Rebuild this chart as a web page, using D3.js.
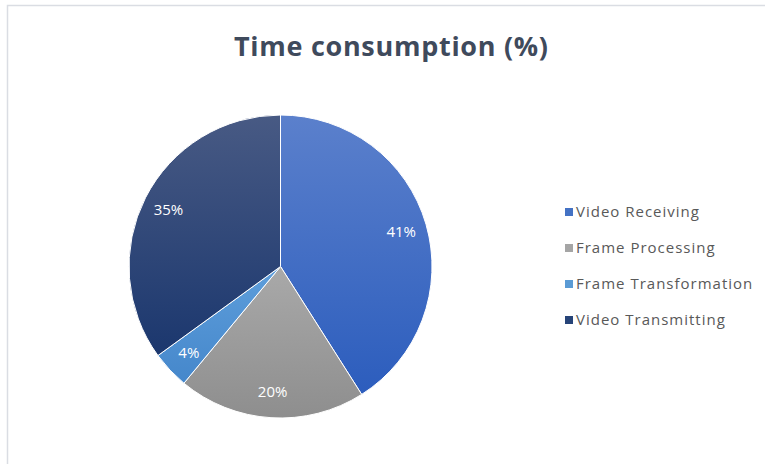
<!DOCTYPE html>
<html>
<head>
<meta charset="utf-8">
<script src="https://cdn.jsdelivr.net/npm/d3@7"></script>
<style>
  html, body { margin: 0; padding: 0; background: #fff; }
  svg { display: block; }
</style>
</head>
<body>
<svg id="chart" width="765" height="464"></svg>
<script>
// Share of processing time per pipeline stage
const categories = ["Video Receiving", "Frame Processing", "Frame Transformation", "Video Transmitting"];
const values = [41, 20, 4, 35];
const labels = ["41%", "20%", "4%", "35%"];
const chartTitle = "Time consumption (%)";

// Vertical gradient stops (top, bottom) for each slice
const topColors = ["#5b80cc", "#a9a9a9", "#5e9edb", "#485a84"];
const bottomColors = ["#2c5dbd", "#8e8e8e", "#4587cb", "#1b376e"];
const legendColors = ["#4472c4", "#a5a5a5", "#5b9bd5", "#264478"];

const svg = d3.select("#chart");
const W = 765, H = 464;

// Outer frame (only top and left edges fall inside the view)
svg.append("rect")
  .attr("x", 7.5).attr("y", 5.5)
  .attr("width", W + 20).attr("height", H + 20)
  .attr("fill", "#fff")
  .attr("stroke", "#dadde3")
  .attr("stroke-width", 1.5);

// Title
svg.append("text")
  .attr("x", 391).attr("y", 56)
  .attr("text-anchor", "middle")
  .attr("font-family", "'Open Sans', sans-serif")
  .attr("font-weight", "bold")
  .attr("font-size", 27)
  .attr("fill", "#3f4a5c")
  .attr("textLength", 314)
  .attr("lengthAdjust", "spacing")
  .text(chartTitle);

const defs = svg.append("defs");
categories.forEach((c, i) => {
  const g = defs.append("linearGradient")
    .attr("id", "grad" + i)
    .attr("x1", 0).attr("y1", 0).attr("x2", 0).attr("y2", 1);
  g.append("stop").attr("offset", "0%").attr("stop-color", topColors[i]);
  g.append("stop").attr("offset", "100%").attr("stop-color", bottomColors[i]);
});

const cx = 280.5, cy = 266.5, radius = 151.5;

const pie = d3.pie().sort(null).value(d => d.value);
const data = categories.map((c, i) => ({ name: c, value: values[i], label: labels[i], i }));
const arcs = pie(data);

const arc = d3.arc().innerRadius(0).outerRadius(radius);
const labelArc = d3.arc().innerRadius(radius * 0.83).outerRadius(radius * 0.83);

const g = svg.append("g").attr("transform", `translate(${cx},${cy})`);

g.selectAll("path.slice")
  .data(arcs)
  .join("path")
  .attr("class", "slice")
  .attr("d", arc)
  .attr("fill", d => `url(#grad${d.data.i})`)
  .attr("stroke", "#fff")
  .attr("stroke-width", 1);

g.selectAll("text.pct")
  .data(arcs)
  .join("text")
  .attr("class", "pct")
  .attr("transform", d => `translate(${labelArc.centroid(d)})`)
  .attr("text-anchor", "middle")
  .attr("dy", "0.35em")
  .attr("font-family", "'Open Sans', sans-serif")
  .attr("font-size", 15)
  .attr("fill", "#fff")
  .text(d => d.data.label);

// Legend
const legendY = d3.scalePoint().domain(categories).range([212, 320]);
const legend = svg.append("g");
const item = legend.selectAll("g.item")
  .data(categories)
  .join("g")
  .attr("class", "item")
  .attr("transform", d => `translate(565,${legendY(d)})`);

item.append("rect")
  .attr("x", 0).attr("y", -4)
  .attr("width", 8).attr("height", 8)
  .attr("fill", (d, i) => legendColors[i]);

item.append("text")
  .attr("x", 11).attr("y", 0)
  .attr("dy", "0.35em")
  .attr("font-family", "'Open Sans', sans-serif")
  .attr("font-size", 15)
  .attr("letter-spacing", 1)
  .attr("fill", "#595959")
  .text(d => d);
</script>
</body>
</html>
